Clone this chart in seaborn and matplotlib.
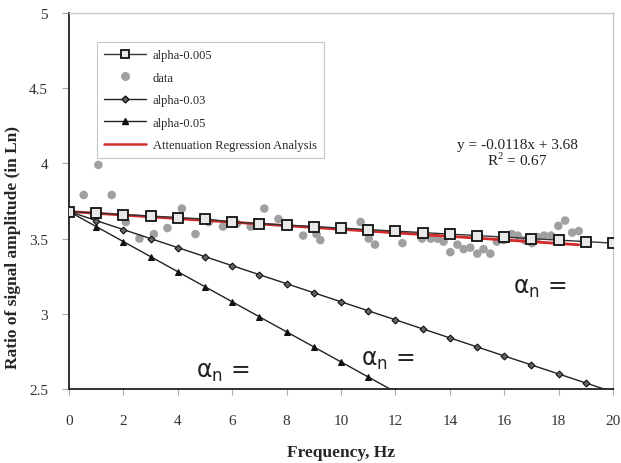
import numpy as np
import pandas as pd
import matplotlib
matplotlib.use("Agg")
import matplotlib.pyplot as plt
import seaborn as sns
from matplotlib.lines import Line2D

# ---- data ----
freq = list(range(0, 21))
alpha_005 = [3.68, 3.67, 3.66, 3.65, 3.64, 3.63, 3.61, 3.60, 3.59, 3.58, 3.57,
             3.56, 3.55, 3.54, 3.53, 3.52, 3.51, 3.50, 3.49, 3.48, 3.47]
alpha_03 = [3.68, 3.62, 3.56, 3.50, 3.44, 3.38, 3.32, 3.26, 3.20, 3.14, 3.08,
            3.02, 2.96, 2.90, 2.84, 2.78, 2.72, 2.66, 2.60, 2.54, 2.48]
freq_05 = list(range(0, 13))
alpha_05 = [3.68, 3.58, 3.48, 3.38, 3.28, 3.18, 3.08, 2.98, 2.88, 2.78, 2.68,
            2.58, 2.48]

data_x = [0.0, 0.54, 1.08, 1.57, 2.09, 2.59, 3.12, 3.62, 4.15, 4.65, 5.14, 5.66,
          6.17, 6.68, 7.18, 7.70, 8.61, 9.10, 9.24, 10.72, 11.02, 11.25, 12.26,
          12.98, 13.30, 13.55, 13.77, 14.02, 14.28, 14.51, 14.75, 15.01, 15.24,
          15.49, 15.73, 15.98, 16.28, 16.50, 16.75, 17.02, 17.24, 17.47, 17.72,
          17.99, 18.24, 18.50, 18.74]
data_y = [3.68, 3.79, 3.99, 3.79, 3.61, 3.50, 3.53, 3.57, 3.70, 3.53, 3.61, 3.58,
          3.60, 3.58, 3.70, 3.63, 3.52, 3.53, 3.49, 3.61, 3.50, 3.46, 3.47,
          3.50, 3.50, 3.50, 3.48, 3.41, 3.46, 3.43, 3.44, 3.40, 3.43,
          3.40, 3.48, 3.49, 3.53, 3.52, 3.49, 3.47, 3.51, 3.52, 3.52,
          3.585, 3.62, 3.54, 3.55]

fit_slope = -0.0118
fit_intercept = 3.68
eq_text = "y = -0.0118x + 3.68\nR$^2$ = 0.67"

x_ticks = [0, 2, 4, 6, 8, 10, 12, 14, 16, 18, 20]
y_ticks = [2.5, 3, 3.5, 4, 4.5, 5]
y_tick_labels = ["2.5", "3", "3.5", "4", "4.5", "5"]

# ---- styling ----
sns.set_style("white")
plt.rcParams["font.family"] = ["Liberation Serif", "DejaVu Serif"]
plt.rcParams["mathtext.fontset"] = "custom"
plt.rcParams["mathtext.rm"] = "Liberation Serif"

fig = plt.figure(figsize=(6.21, 4.64), dpi=100)
ax = fig.add_axes([69 / 621, 1 - 390 / 464, 544 / 621, 376 / 464])

df_data = pd.DataFrame({"x": data_x, "y": data_y})
sns.scatterplot(data=df_data, x="x", y="y", ax=ax, color="#a0a0a0", s=38,
                edgecolor="none", zorder=2, legend=False)

fit_x = np.array([0.0, max(data_x)])
fit_y = fit_slope * fit_x + fit_intercept
sns.lineplot(x=fit_x, y=fit_y, ax=ax, color="#d42a2a", lw=2.0, zorder=3,
             sort=False, legend=False)

sns.lineplot(x=freq, y=alpha_03, ax=ax, color="#222222", lw=1.0, marker="D",
             markersize=3.5, markerfacecolor="#666666", markeredgecolor="#111111",
             markeredgewidth=0.8, zorder=4, legend=False, sort=False)
sns.lineplot(x=freq_05, y=alpha_05, ax=ax, color="#222222", lw=1.0, marker="^",
             markersize=4.5, markerfacecolor="#111111", markeredgecolor="#111111",
             zorder=4, legend=False, sort=False)
sns.lineplot(x=freq, y=alpha_005, ax=ax, color="#333333", lw=1.0, marker="s",
             markersize=6.5, markerfacecolor="#e8e8e8", markeredgecolor="#111111",
             markeredgewidth=1.3, zorder=5, legend=False, sort=False)

ax.set_xlim(0, 20)
ax.set_ylim(2.5, 5)
ax.set_xticks(x_ticks)
ax.set_xticklabels([str(t) for t in x_ticks])
ax.set_yticks(y_ticks)
ax.set_yticklabels(y_tick_labels)
ax.tick_params(axis="x", direction="out", length=4, color="#aaaaaa", pad=14,
               labelsize=11, labelcolor="#333333")
ax.tick_params(axis="y", direction="out", length=5, color="#aaaaaa", pad=10,
               labelsize=11, labelcolor="#333333")
ax.tick_params(bottom=True, left=True)

for side in ["left", "bottom"]:
    ax.spines[side].set_color("#222222")
    ax.spines[side].set_linewidth(1.3)
for side in ["top", "right"]:
    ax.spines[side].set_color("#c8c8c8")
    ax.spines[side].set_linewidth(1.0)

ax.set_xlabel("Frequency, Hz", fontsize=12.5, fontweight="bold", labelpad=12)
ax.set_ylabel("Ratio of signal amplitude (in Ln)", fontsize=12.5,
              fontweight="bold")
ax.yaxis.set_label_coords(-0.088, 0.38)

# annotations
ax.text((517 - 69) / 544, (390 - 154) / 376, eq_text,
        transform=ax.transAxes, ha="center", va="center", fontsize=11,
        linespacing=1.0, color="#222222")
for (px, py) in [(223, 372), (388, 360), (540, 288)]:
    ax.text((px - 69) / 544, (390 - py) / 376, r"$\mathregular{\alpha_{n}}$ =",
            transform=ax.transAxes, ha="center", va="center", fontsize=17,
            family="DejaVu Sans", color="#222222")

handles = [
    Line2D([], [], color="#333333", lw=1.0, marker="s", markersize=6,
           markerfacecolor="#e8e8e8", markeredgecolor="#111111",
           markeredgewidth=1.3),
    Line2D([], [], color="none", marker="o", markersize=6.5,
           markerfacecolor="#a0a0a0", markeredgecolor="none"),
    Line2D([], [], color="#222222", lw=1.0, marker="D", markersize=3.5,
           markerfacecolor="#666666", markeredgecolor="#111111"),
    Line2D([], [], color="#222222", lw=1.0, marker="^", markersize=4.5,
           markerfacecolor="#111111", markeredgecolor="#111111"),
    Line2D([], [], color="#d42a2a", lw=1.8),
]
labels = ["alpha-0.005", "data", "alpha-0.03", "alpha-0.05",
          "Attenuation Regression Analysis"]
leg = ax.legend(handles, labels, loc="upper left",
                bbox_to_anchor=((97 - 69) / 544, (390 - 43) / 376),
                borderaxespad=0,
                fontsize=9, frameon=True, fancybox=False, framealpha=1,
                edgecolor="#c8c8c8", handlelength=3.4, labelspacing=0.85,
                borderpad=0.55, handletextpad=0.5)
leg.get_frame().set_linewidth(0.8)

fig.savefig("out.png", dpi=100)
